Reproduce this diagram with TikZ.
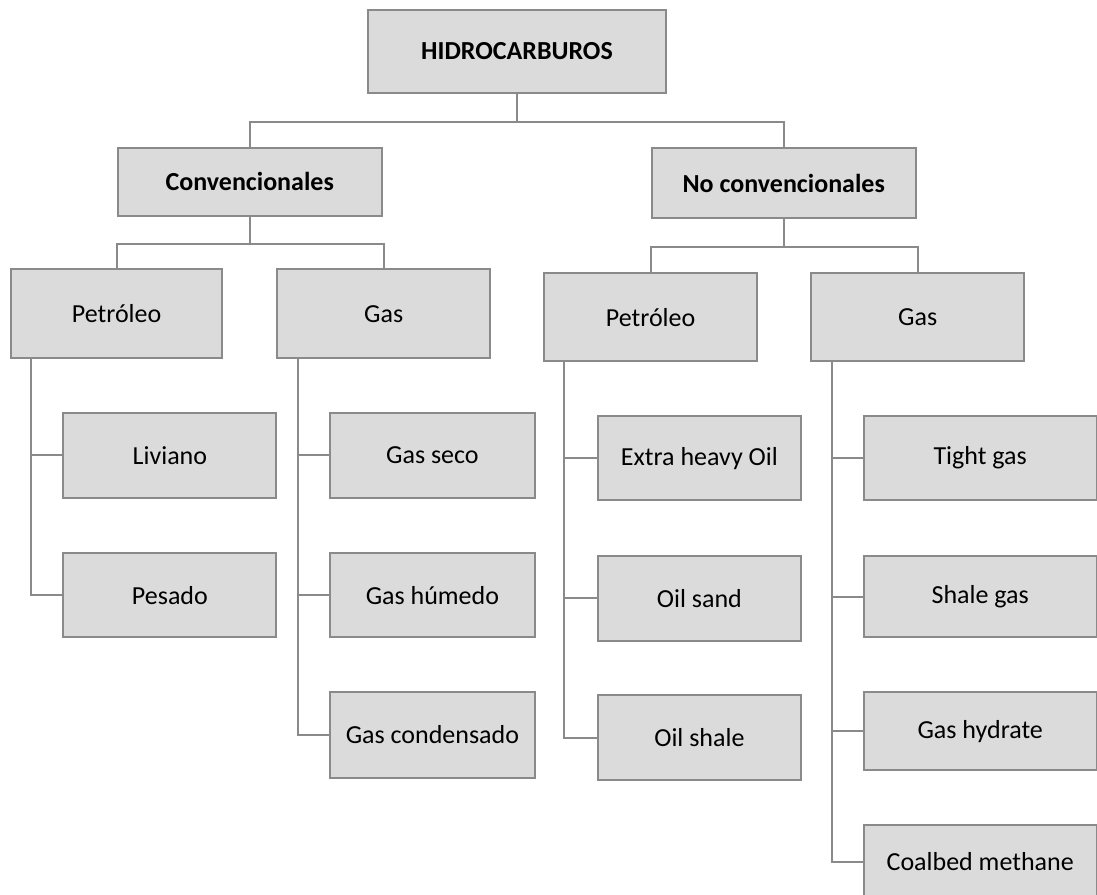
\documentclass[tikz,border=0pt]{standalone}
\usepackage{fontspec}
\setmainfont{Carlito}
\definecolor{boxfill}{RGB}{219,219,219}
\definecolor{boxline}{RGB}{138,138,138}
\definecolor{connline}{RGB}{138,138,138}
\begin{document}
\begin{tikzpicture}[x=1pt,y=-1pt,
  box/.style={draw=boxline, fill=boxfill, line width=2pt, inner sep=0pt,
    font=\fontsize{26}{30}\selectfont, text=black},
  bbox/.style={box, font=\fontsize{26}{30}\selectfont\bfseries},
  conn/.style={draw=connline, line width=2pt}]
\useasboundingbox (0,0) rectangle (1097,894);
% level 0
\node[bbox, minimum width=298pt, minimum height=83.3pt] (H) at (517,51.4) {HIDROCARBUROS};
% level 1
\node[bbox, minimum width=263.8pt, minimum height=67.7pt] (C) at (249.7,181.9) {Convencionales};
\node[bbox, minimum width=263.6pt, minimum height=70pt] (N) at (783.7,183.3) {No convencionales};
% level 2
\node[box, minimum width=211.5pt, minimum height=89pt] (CP) at (116.6,313.8) {Petróleo};
\node[box, minimum width=212.6pt, minimum height=89pt] (CG) at (383.7,313.8) {Gas};
\node[box, minimum width=212.3pt, minimum height=87.7pt] (NP) at (650.6,317.2) {Petróleo};
\node[box, minimum width=212.6pt, minimum height=87.7pt] (NG) at (917.7,317.2) {Gas};
% level 3 - conventional oil
\node[box, minimum width=212.9pt, minimum height=85.3pt] (Liv) at (169.9,455.3) {Liviano};
\node[box, minimum width=212.9pt, minimum height=84pt] (Pes) at (169.9,595.3) {Pesado};
% conventional gas
\node[box, minimum width=204.9pt, minimum height=85.3pt] (GS) at (432.4,455.3) {Gas seco};
\node[box, minimum width=204.9pt, minimum height=84pt] (GH) at (432.4,595.3) {Gas húmedo};
\node[box, minimum width=204.9pt, minimum height=85.4pt] (GC) at (432.4,735) {Gas condensado};
% unconventional oil
\node[box, minimum width=203.6pt, minimum height=84.3pt] (EH) at (699.4,458.2) {Extra heavy Oil};
\node[box, minimum width=203.6pt, minimum height=85pt] (OSa) at (699.4,598.2) {Oil sand};
\node[box, minimum width=203.6pt, minimum height=85.3pt] (OSh) at (699.4,737.7) {Oil shale};
% unconventional gas
\node[box, minimum width=232.7pt, minimum height=84.3pt] (TG) at (980.2,458.2) {Tight gas};
\node[box, minimum width=232.7pt, minimum height=81.6pt] (SG) at (980.2,596.5) {Shale gas};
\node[box, minimum width=232.7pt, minimum height=78pt] (GHy) at (980.2,731.3) {Gas hydrate};
\node[box, minimum width=232.7pt, minimum height=74pt] (CBM) at (980.2,862) {Coalbed methane};
% connectors level 0 -> 1
\draw[conn] (H.south) -- ++(0,27.7) -| (C.north);
\draw[conn] (H.south) -- ++(0,27.7) -| (N.north);
% level 1 -> 2
\draw[conn] (C.south) -- ++(0,27) -| (CP.north);
\draw[conn] (C.south) -- ++(0,27) -| (CG.north);
\draw[conn] (N.south) -- ++(0,27.4) -| (NP.north);
\draw[conn] (N.south) -- ++(0,27.4) -| (NG.north);
% level 2 -> 3
\draw[conn] ([xshift=21.4pt]CP.south west) |- (Pes.west);
\draw[conn] ([xshift=21.4pt]CP.south west) |- (Liv.west);
\draw[conn] ([xshift=21.4pt]CG.south west) |- (GC.west);
\draw[conn] ([xshift=21.4pt]CG.south west) |- (GH.west);
\draw[conn] ([xshift=21.4pt]CG.south west) |- (GS.west);
\draw[conn] ([xshift=20.9pt]NP.south west) |- (OSh.west);
\draw[conn] ([xshift=20.9pt]NP.south west) |- (OSa.west);
\draw[conn] ([xshift=20.9pt]NP.south west) |- (EH.west);
\draw[conn] ([xshift=21.7pt]NG.south west) |- (CBM.west);
\draw[conn] ([xshift=21.7pt]NG.south west) |- (GHy.west);
\draw[conn] ([xshift=21.7pt]NG.south west) |- (SG.west);
\draw[conn] ([xshift=21.7pt]NG.south west) |- (TG.west);
\end{tikzpicture}
\end{document}
